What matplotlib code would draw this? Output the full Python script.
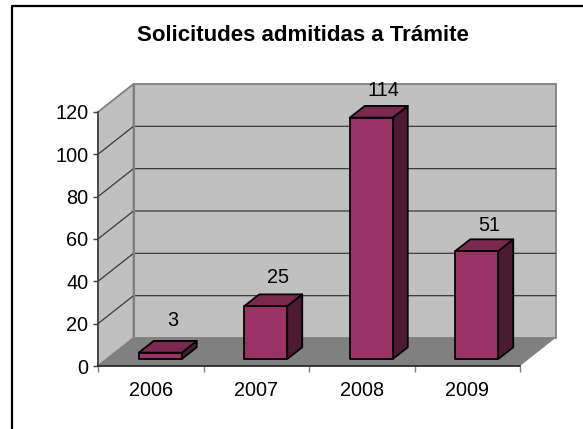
import matplotlib
matplotlib.use('Agg')
import matplotlib.pyplot as plt
from matplotlib.patches import Polygon
from matplotlib.lines import Line2D

years = ['2006', '2007', '2008', '2009']
values = [3, 25, 114, 51]
y_ticks = [0, 20, 40, 60, 80, 100, 120]
label_gaps = [32, 29, 27, 26]   # pixels from bar top to label centre

plt.rcParams['font.family'] = ['Liberation Sans', 'DejaVu Sans']

W, H = 583, 429
px_x = 105.5   # pixels per category
px_y = 2.117   # pixels per value unit
x0_px, y0_px = 98, 366

# depth of the fake 3d box, in data units
back_dx = 35.5 / px_x
back_dy = 28 / px_y
bar_dx = 15 / px_x
bar_dy = 11.7 / px_y
bar_w = 43 / px_x
bar_shift = 0.09
bar_base = 7 / px_y
top_val = y_ticks[-1]
n = len(years)

fig = plt.figure(figsize=(W / 100, H / 100), dpi=100)
ax = fig.add_axes([0, 0, 1, 1])
ax.set_xlim(-x0_px / px_x, (W - x0_px) / px_x)
ax.set_ylim(-(H - y0_px) / px_y, y0_px / px_y)
ax.patch.set_alpha(0)

# walls and floor
wall = '#c0c0c0'
edge = '#808080'
ax.add_patch(Polygon([(back_dx, back_dy), (n + back_dx, back_dy),
                      (n + back_dx, top_val + back_dy), (back_dx, top_val + back_dy)],
                     fc=wall, ec=edge, lw=1.3, zorder=1))
ax.add_patch(Polygon([(0, 0), (back_dx, back_dy), (back_dx, top_val + back_dy), (0, top_val)],
                     fc=wall, ec=edge, lw=1.3, zorder=1))
ax.add_patch(Polygon([(0, 0), (n, 0), (n + back_dx, back_dy), (back_dx, back_dy)],
                     fc='#808080', ec='none', zorder=1))

# gridlines go round the side wall and the back wall
for v in y_ticks[1:-1]:
    ax.plot([0, back_dx, n + back_dx], [v, v + back_dy, v + back_dy],
            color='#3a3a3a', lw=0.9, zorder=2)
ax.plot([back_dx, back_dx], [back_dy, top_val + back_dy], color=edge, lw=1.5, zorder=2)

# bars
for i, v in enumerate(values):
    x1 = i + 0.5 + bar_shift - bar_w / 2
    x2 = x1 + bar_w
    y1 = bar_base
    y2 = bar_base + v
    ax.add_patch(Polygon([(x2, y1), (x2 + bar_dx, y1 + bar_dy), (x2 + bar_dx, y2 + bar_dy), (x2, y2)],
                         fc='#4d1a33', ec='black', lw=1.3, joinstyle='round', zorder=3))
    ax.add_patch(Polygon([(x1, y2), (x2, y2), (x2 + bar_dx, y2 + bar_dy), (x1 + bar_dx, y2 + bar_dy)],
                         fc='#7a2951', ec='black', lw=1.3, joinstyle='round', zorder=3))
    ax.add_patch(Polygon([(x1, y1), (x2, y1), (x2, y2), (x1, y2)],
                         fc='#993366', ec='black', lw=1.3, joinstyle='round', zorder=4))
    ax.annotate(str(v), xy=(x1 + bar_w / 2, y2), xytext=(9, label_gaps[i] * 0.72), textcoords='offset points',
                ha='center', va='center', fontsize=14.3, color='black', zorder=5)

# axes
for s in ['top', 'right']:
    ax.spines[s].set_visible(False)
ax.spines['left'].set_position(('data', 0))
ax.spines['bottom'].set_position(('data', 0))
ax.spines['left'].set_bounds(0, top_val)
ax.spines['bottom'].set_bounds(0, n)
ax.spines['left'].set_color('#404040')
ax.spines['bottom'].set_color('#202020')
ax.spines['left'].set_linewidth(1.2)
ax.spines['bottom'].set_linewidth(1.2)
ax.spines['left'].set_zorder(3)
ax.spines['bottom'].set_zorder(3)

ax.set_yticks(y_ticks)
ax.set_yticklabels([str(t) for t in y_ticks], fontsize=14.3)
ax.tick_params(axis='y', length=3.5, width=1, color='#404040', pad=3.5)
ax.set_xticks(range(n + 1))
ax.set_xticklabels([])
ax.set_xticks([i + 0.5 for i in range(n)], minor=True)
ax.set_xticklabels(years, minor=True, fontsize=14.3)
ax.tick_params(axis='x', which='major', length=4, width=1, color=edge)
ax.tick_params(axis='x', which='minor', length=0, pad=11)

fig.text(302.5 / W, 1 - 41 / H, 'Solicitudes admitidas a Trámite', ha='center', va='baseline',
         fontsize=16, fontweight='bold', color='black')

# chart frame, only top and left are inside the crop
fig.add_artist(Line2D([11.5 / W, 11.5 / W, 1], [0, 1 - 5.5 / H, 1 - 5.5 / H],
                      transform=fig.transFigure, color='black', lw=1.6))

fig.savefig('out.png', dpi=100)
